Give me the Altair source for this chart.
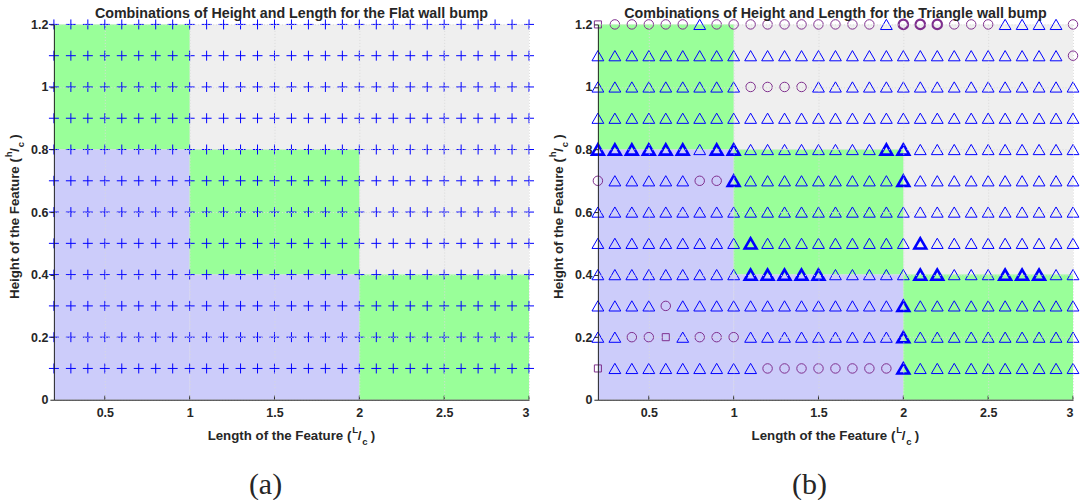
import altair as alt
import pandas as pd

# Grid of tested feature sizes (length L/c across, height h/c down)
L_VALUES = [0.2, 0.3, 0.4, 0.5, 0.6, 0.7, 0.8, 0.9, 1.0, 1.1, 1.2, 1.3, 1.4, 1.5,
            1.6, 1.7, 1.8, 1.9, 2.0, 2.1, 2.2, 2.3, 2.4, 2.5, 2.6, 2.7, 2.8, 2.9, 3.0]
H_VALUES = [1.2, 1.1, 1.0, 0.9, 0.8, 0.7, 0.6, 0.5, 0.4, 0.3, 0.2, 0.1]

# Outcome per row, run-length coded (count + code), one string per height.
# p = plus, t = triangle, T = bold triangle, o = circle, O = bold circle, s = square
FLAT_ROWS = ["29p", "29p", "29p", "29p", "29p", "29p",
             "29p", "29p", "29p", "29p", "29p", "29p"]
TRIANGLE_ROWS = [
    "1s 5o 1t 10o 1t 3O 3o 4t 1o",   # h = 1.2
    "28t 1o",                        # h = 1.1
    "9t 4o 16t",                     # h = 1.0
    "29t",                           # h = 0.9
    "6T 1t 2T 8t 2T 10t",            # h = 0.8
    "1o 5t 2o 1T 9t 1T 10t",         # h = 0.7
    "29t",                           # h = 0.6
    "9t 1T 9t 1T 9t",                # h = 0.5
    "9t 5T 5t 2T 3t 3T 2t",          # h = 0.4
    "4t 1o 13t 1T 10t",              # h = 0.3
    "2t 2o 1s 1t 3o 9t 1T 10t",      # h = 0.2
    "1s 9t 8o 1T 10t",               # h = 0.1
]

# Shaded design regions
REGION_L1 = [0.2, 0.2, 0.2, 1.0, 1.0, 2.0]
REGION_L2 = [3.0, 1.0, 1.0, 2.0, 2.0, 3.0]
REGION_H1 = [0.0, 0.8, 0.0, 0.4, 0.0, 0.0]
REGION_H2 = [1.2, 1.2, 0.8, 0.8, 0.4, 0.4]
REGION_KIND = ["outside", "green", "blue", "green", "blue", "green"]

X_TICKS = [0.5, 1.0, 1.5, 2.0, 2.5, 3.0]
Y_TICKS = [0.0, 0.2, 0.4, 0.6, 0.8, 1.0, 1.2]

FONT = "Liberation Sans"
SERIF = "Liberation Serif"
INK = "#262626"
BLUE = "#0000ff"
PURPLE = "#7e2f8e"
W, H = 476, 376
PLUS = "M-1,0H1M0,-1V1"


def decode(rows):
    records = []
    for h, row in zip(H_VALUES, rows):
        codes = []
        for run in row.split():
            codes.extend([run[-1]] * int(run[:-1]))
        if len(codes) != len(L_VALUES):
            raise ValueError(f"row {h} has {len(codes)} entries")
        for l, c in zip(L_VALUES, codes):
            records.append({"L": l, "H": h, "code": c})
    return pd.DataFrame(records)


regions = pd.DataFrame({"L1": REGION_L1, "L2": REGION_L2,
                        "H1": REGION_H1, "H2": REGION_H2, "kind": REGION_KIND})
one_row = pd.DataFrame({"_": [0]})

x_scale = alt.Scale(domain=[0.2, 3.0], nice=False, zero=False)
y_scale = alt.Scale(domain=[0.0, 1.2], nice=False, zero=False)
x_axis = alt.Axis(values=X_TICKS, format="~g", title=None, grid=True, gridDash=[1, 2],
                  gridColor="#dadada", ticks=False, labelFont=FONT, labelFontSize=12.5,
                  labelFontWeight="bold", labelColor=INK, domainColor=INK,
                  labelPadding=7, zindex=1)
y_axis = alt.Axis(values=Y_TICKS, format="~g", title=None, grid=True, gridDash=[1, 2],
                  gridColor="#dadada", ticks=True, tickSize=4, tickColor=INK,
                  labelFont=FONT, labelFontSize=12.5, labelFontWeight="bold",
                  labelColor=INK, domainColor=INK, labelPadding=2, zindex=1)

# marker styles: code -> (shape, stroke colour, size, stroke width)
STYLE = {
    "p": (PLUS, BLUE, 100, 1.0),
    "t": ("triangle-up", BLUE, 140, 1.0),
    "T": ("triangle-up", BLUE, 140, 2.6),
    "o": ("circle", PURPLE, 90, 1.0),
    "O": ("circle", PURPLE, 90, 2.2),
    "s": ("square", PURPLE, 50, 1.0),
}


def text_layer(text, x, y, size, align="center", angle=0, font=FONT, weight="bold",
               baseline="alphabetic"):
    return alt.Chart(one_row).mark_text(
        text=text, font=font, fontSize=size, fontWeight=weight, align=align,
        baseline=baseline, angle=angle, color=INK
    ).encode(x=alt.value(x), y=alt.value(y))


def fraction_label(main, sup, sub, x0, y0, vertical):
    # "main (sup/sub)" with a raised numerator and lowered denominator
    pieces = [(main, 13.3, 0, 0, "right"), (sup, 9.5, 1.0, -6.5, "left"),
              ("/", 13.3, 6.5, 0, "left"), (sub, 9.5, 11, 5, "left"),
              (")", 13.3, 19.5, 0, "left")]
    layers = []
    for text, size, along, shift, align in pieces:
        if vertical:
            layers.append(text_layer(text, x0 + shift, y0 - along, size, align, 270))
        else:
            layers.append(text_layer(text, x0 + along, y0 + shift, size, align, 0))
    return layers


def panel(rows, title, caption):
    pts = decode(rows)
    bg = alt.Chart(regions).mark_rect(strokeWidth=0).encode(
        x=alt.X("L1:Q", scale=x_scale, axis=x_axis), x2="L2:Q",
        y=alt.Y("H1:Q", scale=y_scale, axis=y_axis), y2="H2:Q",
        fill=alt.Fill("kind:N", legend=None, scale=alt.Scale(
            domain=["outside", "green", "blue"],
            range=["#efefef", "#99ff99", "#ccccfa"])),
    )
    ticks = alt.Chart(pd.DataFrame({"v": X_TICKS})).mark_rule(
        color=INK, strokeWidth=1).encode(
        x=alt.X("v:Q", scale=x_scale, axis=x_axis), y=alt.value(H), y2=alt.value(H - 4))
    layers = [bg, ticks]
    for code, (shape, color, size, width) in STYLE.items():
        sub = pts[pts["code"] == code]
        if sub.empty:
            continue
        layers.append(alt.Chart(sub).mark_point(
            filled=False, opacity=1, shape=shape, stroke=color, size=size,
            strokeWidth=width).encode(
            x=alt.X("L:Q", scale=x_scale, axis=x_axis),
            y=alt.Y("H:Q", scale=y_scale, axis=y_axis)))
    # invisible corner point that fixes the page origin
    corner = alt.Chart(one_row).mark_rect(opacity=0).encode(
        x=alt.value(-54), x2=alt.value(-53), y=alt.value(-24), y2=alt.value(-23))
    layers += [corner, text_layer(title, W / 2, -6, 14.3)]
    layers += fraction_label("Length of the Feature (", "L", "c", 298, 416, False)
    layers += fraction_label("Height of the Feature (", "h", "c", -35, 134, True)
    layers.append(text_layer(caption, 212, 461, 30, font=SERIF, weight="normal",
                             baseline="middle"))
    return alt.layer(*layers).properties(width=W, height=H)


left = panel(FLAT_ROWS, "Combinations of Height and Length for the Flat wall bump", "(a)")
right = panel(TRIANGLE_ROWS,
              "Combinations of Height and Length for the Triangle wall bump", "(b)")

chart = alt.hconcat(left, right, spacing=69, bounds="flush").properties(
    padding=0, background="white"
).configure_view(strokeWidth=0)

chart.save("out.html", embed_options={"renderer": "svg", "actions": False})
